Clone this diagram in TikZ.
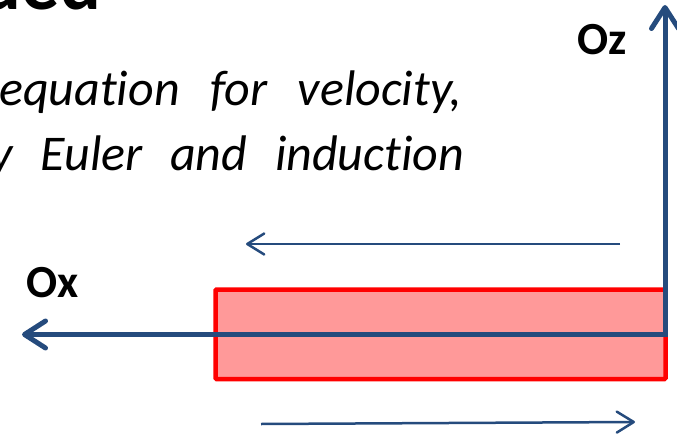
\documentclass[tikz,border=0pt]{standalone}
\usepackage{fontspec}
\setmainfont{Carlito}[Ligatures={NoCommon}]
\usetikzlibrary{arrows.meta}
\definecolor{axisblue}{RGB}{37,75,125}
\definecolor{slabfill}{RGB}{255,153,153}
\tikzset{
  axisline/.style={draw=axisblue, line width=5pt, line join=miter,
    {Straight Barb[length=21pt,width=27pt,line cap=round,line join=round]}-{Straight Barb[length=21pt,width=27pt,line cap=round,line join=round]}},
  flowline/.style={draw=axisblue, line width=2.5pt,
    -{Straight Barb[length=17pt,width=21pt,line cap=round,line join=round]}},
  slab/.style={draw=red, fill=slabfill, line width=4.5pt, rounded corners=1pt,
    inner sep=0pt, outer sep=0pt},
  axislabel/.style={font=\fontsize{46}{46}\selectfont\bfseries, inner sep=0pt},
  bodytext/.style={font=\fontsize{50}{50}\selectfont\itshape, inner sep=0pt},
  titletext/.style={font=\fontsize{76}{76}\selectfont\bfseries, inner sep=0pt}
}
\begin{document}
\begin{tikzpicture}[x=1pt,y=-1pt]
\useasboundingbox (0,0) rectangle (677,436);
\clip (0,0) rectangle (677,436);
% title fragment
\node[titletext, anchor=base east] (title) at (101,10) {ued};
% body text
\node[bodytext, anchor=base west] (line1) at (-1,105) {\makebox[463pt][s]{equation for velocity,}};
\node[bodytext, anchor=base west] (line2) at (-10,170) {\makebox[474pt][s]{y Euler and induction}};
% axis labels
\node[axislabel, anchor=base west] (oz) at (577,55) {Oz};
\node[axislabel, anchor=base west] (ox) at (26,297) {Ox};
% slab
\node[slab, anchor=north west, minimum width=450pt, minimum height=89.5pt] (rect) at (215.5,289.5) {};
% axes
\coordinate (ztip) at (665,5);
\coordinate (origin) at (665,334.5);
\coordinate (xtip) at (22,334.5);
\draw[axisline] (ztip) -- (origin) -- (xtip);
% flow arrows
\coordinate (utail) at (620,244);
\coordinate (uhead) at (246,244);
\draw[flowline] (utail) -- (uhead);
\coordinate (ltail) at (261,424);
\coordinate (lhead) at (635,422);
\draw[flowline] (ltail) -- (lhead);
\end{tikzpicture}
\end{document}
